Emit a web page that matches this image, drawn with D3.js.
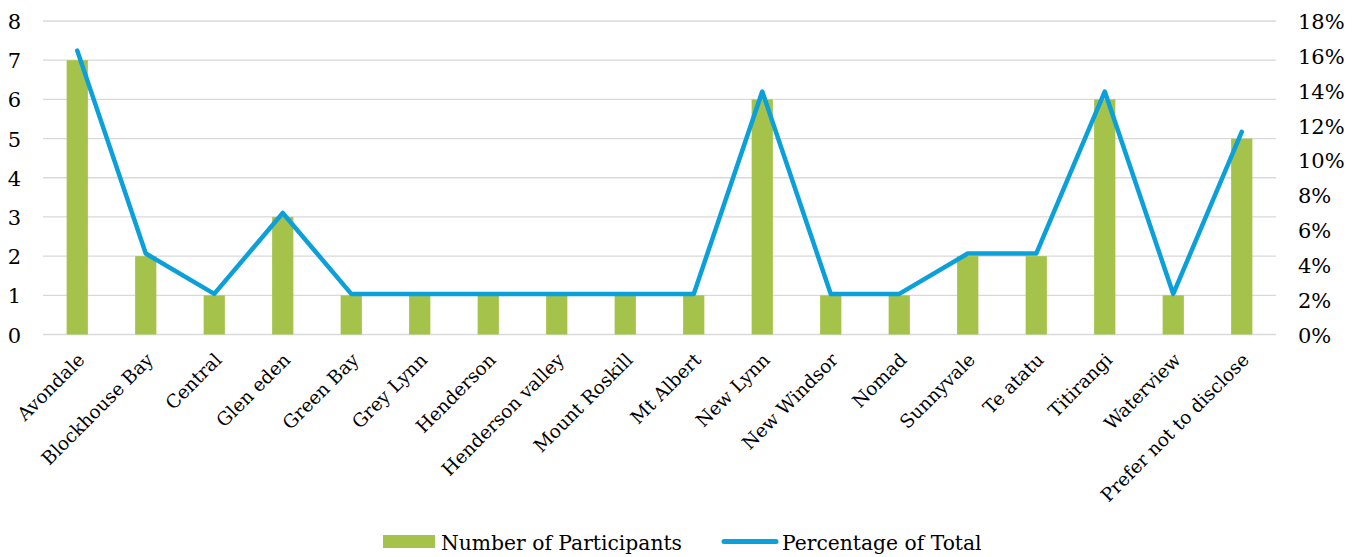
<!DOCTYPE html>
<html>
<head>
<meta charset="utf-8">
<script src="https://cdn.jsdelivr.net/npm/d3@7"></script>
<style>
  html, body { margin: 0; padding: 0; background: #fff; }
  svg { display: block; }
  text { font-family: "DejaVu Serif", "Liberation Serif", serif; fill: #000; }
</style>
</head>
<body>
<svg id="chart" width="1363" height="557"></svg>
<script>
const categories = ["Avondale", "Blockhouse Bay", "Central", "Glen eden", "Green Bay", "Grey Lynn",
  "Henderson", "Henderson valley", "Mount Roskill", "Mt Albert", "New Lynn", "New Windsor",
  "Nomad", "Sunnyvale", "Te atatu", "Titirangi", "Waterview", "Prefer not to disclose"];
const participants = [7, 2, 1, 3, 1, 1, 1, 1, 1, 1, 6, 1, 1, 2, 2, 6, 1, 5];
const percentOfTotal = [16.3, 4.65, 2.33, 6.98, 2.33, 2.33, 2.33, 2.33, 2.33, 2.33, 13.95, 2.33,
  2.33, 4.65, 4.65, 13.95, 2.33, 11.63];
const leftTicks = [0, 1, 2, 3, 4, 5, 6, 7, 8];
const rightTicks = [0, 2, 4, 6, 8, 10, 12, 14, 16, 18];
const seriesNames = ["Number of Participants", "Percentage of Total"];

const svg = d3.select("#chart");
const pLeft = 43, pRight = 1276, pTop = 21, pBottom = 334.5;
const barColor = "#A5C34A", lineColor = "#0BA0DA";

const x = d3.scaleBand().domain(categories).range([pLeft, pRight]).paddingInner(0.69).paddingOuter(0.345);
const yL = d3.scaleLinear().domain([0, 8]).range([pBottom, pTop]);
const yR = d3.scaleLinear().domain([0, 18]).range([pBottom, pTop]);

// gridlines
svg.append("g").selectAll("line").data(leftTicks).join("line")
  .attr("x1", pLeft).attr("x2", pRight)
  .attr("y1", d => yL(d)).attr("y2", d => yL(d))
  .attr("stroke", "#D9D9D9").attr("stroke-width", 1.3);

// left axis
const axL = svg.append("g").attr("transform", `translate(${pLeft},0)`)
  .call(d3.axisLeft(yL).tickValues(leftTicks).tickSize(0).tickPadding(22).tickFormat(d3.format("d")));
axL.select(".domain").remove();
axL.selectAll("text").style("font-size", "21px").attr("dy", "0.36em");

// right axis
const axR = svg.append("g").attr("transform", `translate(${pRight},0)`)
  .call(d3.axisRight(yR).tickValues(rightTicks).tickSize(0).tickPadding(22).tickFormat(d => d + "%"));
axR.select(".domain").remove();
axR.selectAll("text").style("font-size", "21px").attr("dy", "0.36em");

// bars
svg.append("g").selectAll("rect").data(categories).join("rect")
  .attr("x", d => x(d)).attr("width", x.bandwidth())
  .attr("y", (d, i) => yL(participants[i]))
  .attr("height", (d, i) => yL(0) - yL(participants[i]))
  .attr("fill", barColor);

// line
const line = d3.line()
  .x((d, i) => x(categories[i]) + x.bandwidth() / 2)
  .y(d => yR(d));
svg.append("path").datum(percentOfTotal)
  .attr("d", line).attr("fill", "none")
  .attr("stroke", lineColor).attr("stroke-width", 4.5)
  .attr("stroke-linejoin", "round").attr("stroke-linecap", "round");

// category labels
const axB = svg.append("g").attr("transform", `translate(0,${pBottom})`)
  .call(d3.axisBottom(x).tickSize(0).tickPadding(0));
axB.select(".domain").remove();
axB.selectAll("text")
  .style("font-size", "18.5px")
  .attr("text-anchor", "end")
  .attr("transform", "translate(4,22) rotate(-45)")
  .attr("x", 0).attr("y", 0).attr("dy", "0.35em");

// legend
const lg = svg.append("g");
lg.append("rect").attr("x", 383).attr("y", 535).attr("width", 52).attr("height", 13).attr("fill", barColor);
lg.append("text").attr("x", 441).attr("y", 550).style("font-size", "20.3px").text(seriesNames[0]);
lg.append("line").attr("x1", 724).attr("x2", 776).attr("y1", 541.5).attr("y2", 541.5)
  .attr("stroke", lineColor).attr("stroke-width", 5).attr("stroke-linecap", "round");
lg.append("text").attr("x", 782).attr("y", 550).style("font-size", "20.3px").text(seriesNames[1]);
</script>
</body>
</html>
